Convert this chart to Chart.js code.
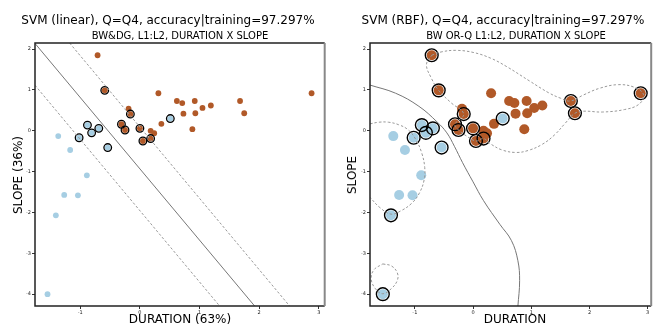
<!DOCTYPE html>
<html>
<head>
<meta charset="utf-8">
<script src="https://cdn.jsdelivr.net/npm/chart.js@4.4.0/dist/chart.umd.min.js"></script>
<style>
  body { margin: 0; background: #fff; font-family: 'DejaVu Sans', sans-serif; }
  #wrap { position: relative; width: 659px; height: 324px; overflow: hidden; }
  canvas { position: absolute; top: 0; }
  .txt { position: absolute; white-space: nowrap; color: #000; transform: translateX(-50%); }
  .big { font-size: 12px; line-height: 12px; }
  .sub { font-size: 10px; line-height: 10px; }
  .rot { position: absolute; white-space: nowrap; font-size: 12px; line-height: 12px; transform: translate(-50%, -50%) rotate(-90deg); }
</style>
</head>
<body>
<div id="wrap">
  <canvas id="linearChart" width="330" height="324" style="left:0"></canvas>
  <canvas id="rbfChart" width="329" height="324" style="left:330px"></canvas>

  <div class="txt big" style="left:168px; top:14px">SVM (linear), Q=Q4, accuracy|training=97.297%</div>
  <div class="txt sub" style="left:180px; top:31px">BW&amp;DG, L1:L2, DURATION X SLOPE</div>
  <div class="txt big" style="left:180px; top:313px">DURATION (63%)</div>
  <div class="rot" style="left:17.5px; top:174.5px">SLOPE (36%)</div>

  <div class="txt big" style="left:503px; top:14px">SVM (RBF), Q=Q4, accuracy|training=97.297%</div>
  <div class="txt sub" style="left:516px; top:31px">BW OR-Q L1:L2, DURATION X SLOPE</div>
  <div class="txt big" style="left:515px; top:313px">DURATION</div>
  <div class="rot" style="left:352px; top:174.5px">SLOPE</div>
</div>
<script>
// class 0 (light blue) and class 1 (brown) points
const durationBlue = [0.51, -0.88, -1.02, -0.81, -0.69, -0.54, -1.37, -1.17, -0.89, -1.27, -1.04, -1.41, -1.55];
const slopeBlue    = [0.30, 0.14, -0.17, -0.05, 0.06, -0.41, -0.13, -0.47, -1.09, -1.57, -1.58, -2.07, -4.00];
const durationOrange = [-0.71, -0.59, -0.19, -0.16, -0.31, -0.25, 0.00, 0.05, 0.18, 0.24, 0.18, 0.31,
                        0.36, 0.62, 0.71, 0.92, 1.05, 1.19, 0.73, 0.93, 0.88, 1.68, 1.75, 2.88];
const slopeOrange    = [1.85, 0.99, 0.54, 0.41, 0.16, 0.02, 0.06, -0.25, 0.00, -0.06, -0.19, 0.92,
                        0.17, 0.73, 0.68, 0.73, 0.56, 0.62, 0.42, 0.43, 0.04, 0.73, 0.43, 0.92];

// support vectors (indices into the arrays above)
const linearSvBlue = [0, 1, 2, 3, 4, 5];
const linearSvOrange = [1, 3, 4, 5, 6, 7, 10];
const rbfSvBlue = [0, 1, 2, 3, 4, 5, 11, 12];
const rbfSvOrange = [0, 1, 3, 4, 5, 6, 7, 10, 21, 22, 23];

// linear model: slope = a * duration + b
const linearSlope = -1.745;
const marginIntercepts = [0.092, -1.956];
const boundaryIntercept = -0.932;

// RBF contours
const rbfBoundaryX = [-1.77, -1.33, -0.93, -0.62, -0.45, -0.32, -0.18, 0.00, 0.18, 0.46, 0.66, 0.77, 0.80, 0.77];
const rbfBoundaryY = [1.12, 0.92, 0.60, 0.22, -0.05, -0.38, -0.78, -1.25, -1.71, -2.29, -2.69, -3.18, -3.67, -4.30];
const rbfBlueMarginX = [-1.77, -1.62, -1.45, -1.28, -1.12, -0.98, -0.88, -0.83, -0.84, -0.92, -1.05, -1.24, -1.41, -1.60, -1.77];
const rbfBlueMarginY = [0.17, 0.21, 0.21, 0.15, 0.03, -0.22, -0.55, -0.90, -1.20, -1.52, -1.77, -1.96, -2.04, -1.88, -1.63];
const rbfSmallLoopX = [-1.55, -1.40, -1.30, -1.30, -1.40, -1.55, -1.68, -1.75, -1.70, -1.55];
const rbfSmallLoopY = [-3.26, -3.31, -3.48, -3.66, -3.86, -3.99, -3.86, -3.62, -3.40, -3.26];
const rbfOrangeMarginX = [-0.71, -0.55, -0.30, 0.00, 0.30, 0.58, 0.97, 1.30, 1.50, 1.67, 1.90, 2.17, 2.50, 2.78, 2.93,
                          2.85, 2.60, 2.22, 1.90, 1.75, 1.58, 1.40, 1.19, 0.95, 0.74, 0.50, 0.30, 0.18, 0.05, -0.12,
                          -0.25, -0.31, -0.16, -0.38, -0.59, -0.72, -0.80, -0.71];
const rbfOrangeMarginY = [1.85, 1.93, 1.97, 1.92, 1.78, 1.57, 1.22, 0.93, 0.80, 0.73, 0.88, 1.04, 1.13, 1.06, 0.88,
                          0.65, 0.52, 0.46, 0.48, 0.43, 0.18, -0.10, -0.33, -0.48, -0.53, -0.47, -0.32, -0.19, -0.25, -0.12,
                          0.02, 0.16, 0.41, 0.69, 0.99, 1.30, 1.62, 1.85];

const xTicks = [-1, 0, 1, 2, 3];
const yTicks = [-4, -3, -2, -1, 0, 1, 2];

const BLUE = '#a6cee3';
const ORANGE = '#b15928';

const toPoints = (xs, ys) => xs.map((x, i) => ({ x, y: ys[i] }));
const pick = (xs, ys, idx) => idx.map(i => ({ x: xs[i], y: ys[i] }));

const framePlugin = {
  id: 'frame',
  afterDraw(chart) {
    const { ctx, chartArea: a } = chart;
    ctx.save();
    ctx.strokeStyle = '#222';
    ctx.lineWidth = 1.5;
    ctx.beginPath();
    ctx.moveTo(a.right, a.top);
    ctx.lineTo(a.left, a.top);
    ctx.lineTo(a.left, a.bottom);
    ctx.lineTo(a.right, a.bottom);
    ctx.stroke();
    ctx.strokeStyle = '#888';
    ctx.lineWidth = 2;
    ctx.beginPath();
    ctx.moveTo(a.right, a.top);
    ctx.lineTo(a.right, a.bottom);
    ctx.stroke();
    ctx.restore();
  }
};

function lineSet(points, dashed, smooth) {
  return {
    type: 'scatter',
    data: points,
    showLine: true,
    borderColor: dashed ? '#999' : '#777',
    borderWidth: 1,
    borderDash: dashed ? [2.5, 2] : [],
    tension: smooth ? 0.4 : 0,
    pointRadius: 0,
    order: 0
  };
}

function makeChart(id, opts) {
  const datasets = [
    ...opts.lines,
    {
      data: [...pick(durationBlue, slopeBlue, opts.svBlue), ...pick(durationOrange, slopeOrange, opts.svOrange)],
      pointRadius: opts.ringR,
      pointBackgroundColor: 'rgba(0,0,0,0)',
      pointBorderColor: '#000',
      pointBorderWidth: opts.ringW,
      order: 1
    },
    {
      data: toPoints(durationOrange, slopeOrange),
      pointRadius: opts.dotR,
      pointBackgroundColor: ORANGE,
      pointBorderWidth: 0,
      order: 2
    },
    {
      data: toPoints(durationBlue, slopeBlue),
      pointRadius: opts.dotR,
      pointBackgroundColor: BLUE,
      pointBorderWidth: 0,
      order: 3
    }
  ];

  const tickFont = { family: 'DejaVu Sans', size: 5 };
  return new Chart(document.getElementById(id), {
    type: 'scatter',
    data: { datasets },
    plugins: [framePlugin],
    options: {
      responsive: false,
      animation: false,
      devicePixelRatio: 1,
      layout: { padding: { left: 0, top: 43, right: opts.padRight, bottom: 0 } },
      plugins: { legend: { display: false }, tooltip: { enabled: false } },
      scales: {
        x: {
          type: 'linear',
          min: opts.xMin,
          max: opts.xMax,
          afterBuildTicks: s => { s.ticks = xTicks.map(v => ({ value: v })); },
          afterFit: s => { s.height = 18; },
          border: { display: false },
          grid: { drawOnChartArea: false, drawTicks: true, tickLength: 3, color: '#333' },
          ticks: { font: tickFont, color: '#222', padding: 1, maxRotation: 0 }
        },
        y: {
          type: 'linear',
          min: -4.29,
          max: 2.15,
          afterBuildTicks: s => { s.ticks = yTicks.map(v => ({ value: v })); },
          afterFit: s => { s.width = opts.yWidth; },
          border: { display: false },
          grid: { drawOnChartArea: false, drawTicks: true, tickLength: 3, color: '#333' },
          ticks: { font: tickFont, color: '#222', padding: 1 }
        }
      }
    }
  });
}

const linXMin = -1.76, linXMax = 3.10;
const linearLine = (b) => [
  { x: linXMin, y: b + linearSlope * linXMin },
  { x: linXMax, y: b + linearSlope * linXMax }
];

makeChart('linearChart', {
  xMin: linXMin, xMax: linXMax, yWidth: 35, padRight: 5,
  dotR: 2.9, ringR: 3.8, ringW: 1.3,
  svBlue: linearSvBlue, svOrange: linearSvOrange,
  lines: [
    lineSet(linearLine(boundaryIntercept), false, false),
    ...marginIntercepts.map(b => lineSet(linearLine(b), true, false))
  ]
});

makeChart('rbfChart', {
  xMin: -1.77, xMax: 3.06, yWidth: 40, padRight: 1,
  dotR: 5, ringR: 6.4, ringW: 1.4,
  svBlue: rbfSvBlue, svOrange: rbfSvOrange,
  lines: [
    lineSet(toPoints(rbfBoundaryX, rbfBoundaryY), false, true),
    lineSet(toPoints(rbfBlueMarginX, rbfBlueMarginY), true, true),
    lineSet(toPoints(rbfSmallLoopX, rbfSmallLoopY), true, true),
    lineSet(toPoints(rbfOrangeMarginX, rbfOrangeMarginY), true, true)
  ]
});
</script>
</body>
</html>
